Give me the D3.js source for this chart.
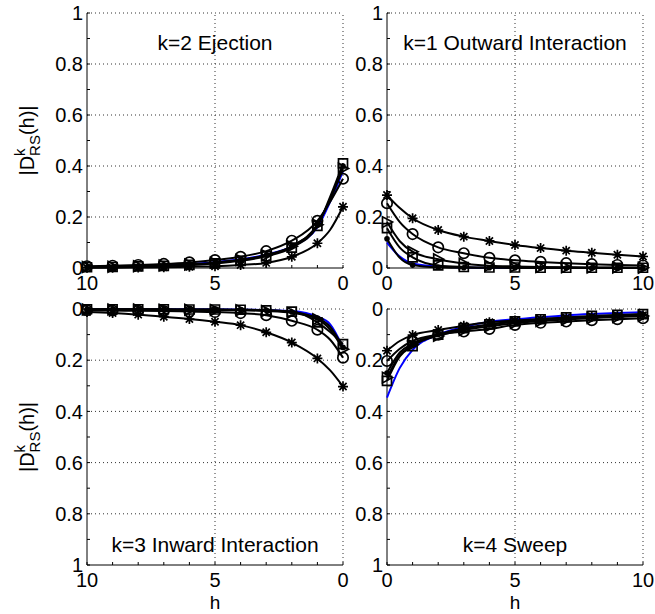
<!DOCTYPE html>
<html lang="en">
<head>
<meta charset="utf-8">
<script src="https://cdn.jsdelivr.net/npm/d3@7"></script>
<style>
  body { margin: 0; background: #fff; }
  svg { font-family: "Liberation Sans", Arial, sans-serif; background: #fff; }
  .grid line { stroke: #333; stroke-width: 1; stroke-dasharray: 1,3; }
  .axis-line { stroke: #000; stroke-width: 1; }
  .tick { stroke: #000; stroke-width: 1; }
  .curve { fill: none; stroke: #000; stroke-width: 2; }
  .curve.ref { stroke: #0000ff; }
  .mark { fill: none; stroke: #000; stroke-width: 1.7; }
  .mark.dot { fill: #000; stroke: none; }
  text { fill: #000; }
</style>
</head>
<body>
<svg width="655" height="614"></svg>
<script>
// separation h; markers sit on the integer values
const hValues = [0, 0.5, 1, 2, 3, 4, 5, 6, 7, 8, 9, 10];
const xTickValues = [0, 5, 10];
const yTickValues = [0, 0.2, 0.4, 0.6, 0.8, 1];
const yTickLabels = ["0", "0.2", "0.4", "0.6", "0.8", "1"];

// k=2 ejection
const ejectionRef    = [0.38, 0.26, 0.16, 0.085, 0.052, 0.034, 0.023, 0.016, 0.011, 0.008, 0.006, 0.004];
const ejectionDot    = [0.40, 0.27, 0.17, 0.085, 0.050, 0.031, 0.020, 0.013, 0.009, 0.006, 0.004, 0.003];
const ejectionStar   = [0.24, 0.15, 0.097, 0.044, 0.020, 0.012, 0.007, 0.005, 0.003, 0.002, 0.001, 0.001];
const ejectionCircle = [0.35, 0.26, 0.185, 0.107, 0.066, 0.044, 0.031, 0.022, 0.016, 0.012, 0.009, 0.007];
const ejectionTri    = [0.39, 0.27, 0.17, 0.085, 0.050, 0.032, 0.021, 0.014, 0.010, 0.007, 0.005, 0.004];
const ejectionSquare = [0.41, 0.28, 0.165, 0.080, 0.046, 0.028, 0.018, 0.012, 0.008, 0.006, 0.004, 0.003];

// k=1 outward interaction
const outwardRef    = [0.10, 0.045, 0.018, 0.006, 0.002, 0.001, 0.001, 0, 0, 0, 0, 0];
const outwardDot    = [0.115, 0.04, 0.012, 0.003, 0.001, 0.001, 0, 0, 0, 0, 0, 0];
const outwardStar   = [0.286, 0.235, 0.195, 0.149, 0.123, 0.106, 0.090, 0.078, 0.068, 0.060, 0.052, 0.045];
const outwardCircle = [0.254, 0.18, 0.133, 0.081, 0.058, 0.040, 0.030, 0.024, 0.019, 0.015, 0.012, 0.010];
const outwardTri    = [0.18, 0.105, 0.064, 0.034, 0.017, 0.009, 0.006, 0.004, 0.003, 0.002, 0.002, 0.001];
const outwardSquare = [0.156, 0.08, 0.042, 0.010, 0.004, 0.002, 0.002, 0.001, 0.001, 0.001, 0.001, 0.001];

// k=3 inward interaction
const inwardRef    = [0.15, 0.06, 0.030, 0.008, 0.004, 0.002, 0.001, 0.001, 0.001, 0, 0, 0];
const inwardDot    = [0.15, 0.07, 0.035, 0.012, 0.005, 0.003, 0.002, 0.002, 0.001, 0.001, 0.001, 0.001];
const inwardStar   = [0.303, 0.24, 0.193, 0.131, 0.091, 0.063, 0.050, 0.039, 0.030, 0.022, 0.016, 0.012];
const inwardCircle = [0.19, 0.12, 0.081, 0.046, 0.024, 0.016, 0.012, 0.010, 0.008, 0.007, 0.006, 0.005];
const inwardTri    = [0.157, 0.08, 0.040, 0.015, 0.008, 0.005, 0.004, 0.003, 0.003, 0.002, 0.002, 0.002];
const inwardSquare = [0.137, 0.09, 0.052, 0.010, 0.005, 0.003, 0.002, 0.002, 0.001, 0.001, 0.001, 0.001];

// k=4 sweep
const sweepRef    = [0.346, 0.23, 0.16, 0.10, 0.070, 0.050, 0.040, 0.032, 0.025, 0.020, 0.016, 0.013];
const sweepDot    = [0.25, 0.17, 0.135, 0.10, 0.078, 0.062, 0.050, 0.042, 0.035, 0.030, 0.025, 0.021];
const sweepStar   = [0.163, 0.125, 0.102, 0.082, 0.065, 0.052, 0.045, 0.039, 0.034, 0.030, 0.027, 0.024];
const sweepCircle = [0.203, 0.155, 0.125, 0.10, 0.088, 0.078, 0.062, 0.054, 0.049, 0.044, 0.040, 0.036];
const sweepTri    = [0.268, 0.18, 0.14, 0.105, 0.082, 0.068, 0.055, 0.047, 0.041, 0.035, 0.031, 0.027];
const sweepSquare = [0.281, 0.185, 0.145, 0.10, 0.075, 0.060, 0.048, 0.040, 0.033, 0.027, 0.023, 0.020];

const panels = [
  { title: "k=2 Ejection", xr: [87, 343], yr: [268, 13], hRev: true,
    series: [ejectionRef, ejectionDot, ejectionStar, ejectionCircle, ejectionTri, ejectionSquare] },
  { title: "k=1 Outward Interaction", xr: [387, 643], yr: [268, 13], hRev: false,
    series: [outwardRef, outwardDot, outwardStar, outwardCircle, outwardTri, outwardSquare] },
  { title: "k=3 Inward Interaction", xr: [87, 343], yr: [309, 565], hRev: true,
    series: [inwardRef, inwardDot, inwardStar, inwardCircle, inwardTri, inwardSquare] },
  { title: "k=4 Sweep", xr: [387, 643], yr: [309, 565], hRev: false,
    series: [sweepRef, sweepDot, sweepStar, sweepCircle, sweepTri, sweepSquare] }
];
const markerKinds = [null, "dot", "star", "circle", "tri", "square"];

// marker outlines, centred on 0,0
function markerPath(kind) {
  const p = d3.path();
  if (kind === "star") {
    const r = 5, d = 3.6;
    p.moveTo(-r, 0); p.lineTo(r, 0);
    p.moveTo(0, -r); p.lineTo(0, r);
    p.moveTo(-d, -d); p.lineTo(d, d);
    p.moveTo(-d, d); p.lineTo(d, -d);
  } else if (kind === "circle") {
    p.moveTo(5.2, 0); p.arc(0, 0, 5.2, 0, 2 * Math.PI);
  } else if (kind === "square") {
    p.rect(-4.5, -4.5, 9, 9);
  } else if (kind === "tri") {
    p.moveTo(5.5, 0); p.lineTo(-4.5, -5.3); p.lineTo(-4.5, 5.3); p.closePath();
  }
  return p.toString();
}

const svg = d3.select("svg");

panels.forEach((pn, pi) => {
  const x = d3.scaleLinear().domain(pn.hRev ? [10, 0] : [0, 10]).range(pn.xr);
  const y = d3.scaleLinear().domain([0, 1]).range(pn.yr);
  const g = svg.append("g");

  const axisX = pn.xr[0];          // y axis sits on the left edge
  const axisY = d3.max(pn.yr);      // x axis sits on the bottom edge
  const bottomVal = y.invert(axisY);
  const leftVal = x.invert(axisX);

  // dotted grid
  const grid = g.append("g").attr("class", "grid");
  grid.selectAll("line.h").data(yTickValues.filter(v => v !== bottomVal)).join("line")
    .attr("x1", pn.xr[0]).attr("x2", pn.xr[1])
    .attr("y1", d => y(d)).attr("y2", d => y(d));
  grid.selectAll("line.v").data(xTickValues.filter(v => v !== leftVal)).join("line")
    .attr("x1", d => x(d)).attr("x2", d => x(d))
    .attr("y1", pn.yr[0]).attr("y2", pn.yr[1]);

  // axes lines and inward ticks
  g.append("line").attr("class", "axis-line")
    .attr("x1", axisX).attr("x2", axisX).attr("y1", pn.yr[0]).attr("y2", pn.yr[1]);
  g.append("line").attr("class", "axis-line")
    .attr("x1", pn.xr[0]).attr("x2", pn.xr[1]).attr("y1", axisY).attr("y2", axisY);
  g.selectAll("line.yt").data(d3.range(0, 1.0001, 0.1)).join("line").attr("class", "tick")
    .attr("x1", axisX).attr("x2", axisX + 3)
    .attr("y1", d => y(d)).attr("y2", d => y(d));
  g.selectAll("line.xt").data(d3.range(0, 10.001, 1)).join("line").attr("class", "tick")
    .attr("x1", d => x(d)).attr("x2", d => x(d))
    .attr("y1", axisY).attr("y2", axisY - 3);

  // tick labels
  g.selectAll("text.yl").data(yTickValues).join("text")
    .attr("x", axisX - 4).attr("y", d => y(d)).attr("dy", "0.36em")
    .attr("text-anchor", "end").attr("font-size", 20)
    .text((d, i) => yTickLabels[i]);
  g.selectAll("text.xl").data(xTickValues).join("text")
    .attr("x", d => x(d)).attr("y", axisY + 22)
    .attr("text-anchor", "middle").attr("font-size", 20)
    .text(d => d);

  // curves, reference line first
  const line = d3.line().x((d, i) => x(hValues[i])).y(d => y(d)).curve(d3.curveMonotoneX);
  pn.series.forEach((vals, si) => {
    g.append("path").attr("class", si === 0 ? "curve ref" : "curve").attr("d", line(vals));
  });

  // markers at integer h
  pn.series.forEach((vals, si) => {
    const kind = markerKinds[si];
    if (!kind) return;
    const pts = vals.map((v, i) => ({ h: hValues[i], v })).filter(d => Number.isInteger(d.h));
    if (kind === "dot") {
      g.selectAll(null).data(pts).join("circle").attr("class", "mark dot")
        .attr("cx", d => x(d.h)).attr("cy", d => y(d.v)).attr("r", 2.8);
    } else {
      g.selectAll(null).data(pts).join("path").attr("class", "mark")
        .attr("transform", d => `translate(${x(d.h)},${y(d.v)})`)
        .attr("d", markerPath(kind));
    }
  });

  // panel title
  const top = pi < 2;
  g.append("text")
    .attr("x", (pn.xr[0] + pn.xr[1]) / 2)
    .attr("y", top ? 50 : 552)
    .attr("text-anchor", "middle").attr("font-size", 21)
    .text(pn.title);

  // y label on the left panels, x label on the bottom ones
  if (pi % 2 === 0) {
    const cy = (pn.yr[0] + pn.yr[1]) / 2;
    const t = g.append("text")
      .attr("transform", `translate(34,${cy}) rotate(-90)`)
      .attr("text-anchor", "middle").attr("font-size", 20);
    t.append("tspan").text("|D");
    t.append("tspan").attr("font-size", 15).attr("dy", -9).text("k");
    t.append("tspan").attr("font-size", 15).attr("dx", -7.5).attr("dy", 15).text("RS");
    t.append("tspan").attr("dy", -6).text("(h)|");
  }
  if (!top) {
    g.append("text")
      .attr("x", (pn.xr[0] + pn.xr[1]) / 2).attr("y", 609)
      .attr("font-size", 19)
      .attr("text-anchor", "middle")
      .text("h");
  }
});
</script>
</body>
</html>
